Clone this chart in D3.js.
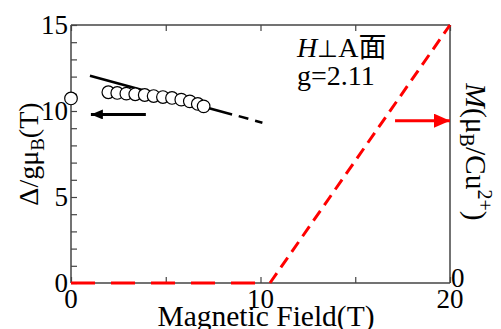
<!DOCTYPE html>
<html><head><meta charset="utf-8">
<script src="https://cdn.jsdelivr.net/npm/d3@7"></script>
<style>
html,body{margin:0;padding:0;background:#fff;}
svg{display:block;}
</style></head>
<body>
<svg id="chart" width="501" height="329"></svg>
<script>
// Data
const gapField = [0, 1.97, 2.44, 2.92, 3.39, 3.89, 4.36, 4.85, 5.33, 5.82, 6.27, 6.69, 7.0];
const gapValue = [10.73, 11.09, 11.05, 11.01, 10.97, 10.93, 10.87, 10.81, 10.76, 10.66, 10.56, 10.41, 10.27];
const fitSolidField = [1.0, 8.5];
const fitSolidValue = [12.05, 9.8];
const fitDashField = [8.85, 10.1];
const fitDashValue = [9.7, 9.32];
const magField = [0, 10.5, 20];
const magValue = [0, 0, 1];
const xTicks = [0, 5, 10, 15, 20];
const xTickLabels = [0, 10, 20];
const yTicks = d3.range(0, 16, 1);
const yTickLabels = [0, 5, 10, 15];
const arrowLeftY = 9.8;
const arrowLeftX = [1.05, 3.95];
const arrowRightY = 9.44;
const arrowRightX = [17.1, 20];

(function () {
const FONT = "'Liberation Serif', 'Times New Roman', serif";
const svg = d3.select("#chart");
const x = d3.scaleLinear().domain([0, 20]).range([71, 450]);
const y = d3.scaleLinear().domain([0, 15]).range([283, 25]);
const yR = d3.scaleLinear().domain([0, 1]).range([283, 25]);
const axisColor = "#444";

const defs = svg.append("defs");
defs.append("marker").attr("id","ahBlack").attr("viewBox","0 0 12 10").attr("refX",12).attr("refY",5)
  .attr("markerWidth",12).attr("markerHeight",10).attr("markerUnits","userSpaceOnUse").attr("orient","auto")
  .append("path").attr("d","M0,0L12,5L0,10Z").attr("fill","#000");
defs.append("marker").attr("id","ahRed").attr("viewBox","0 0 16 14").attr("refX",16).attr("refY",7)
  .attr("markerWidth",16).attr("markerHeight",14).attr("markerUnits","userSpaceOnUse").attr("orient","auto")
  .append("path").attr("d","M0,0L16,7L0,14Z").attr("fill","#ff0000");

const g = svg.append("g");
const x0 = x.range()[0], x1 = x.range()[1], y0 = y.range()[0], y1 = y.range()[1];
const axB = g.append("g").attr("transform",`translate(0,${y0})`)
  .call(d3.axisBottom(x).tickValues(xTicks).tickSize(-6).tickFormat(""));
const axT = g.append("g").attr("transform",`translate(0,${y1})`)
  .call(d3.axisTop(x).tickValues(xTicks).tickSize(-6).tickFormat(""));
const axL = g.append("g").attr("transform",`translate(${x0},0)`)
  .call(d3.axisLeft(y).tickValues(yTicks).tickSize(-6).tickFormat(""));
const axR = g.append("g").attr("transform",`translate(${x1},0)`)
  .call(d3.axisRight(yR).tickValues([]).tickSizeOuter(0));
[axB, axT, axL, axR].forEach(a => {
  a.selectAll("path").attr("stroke", axisColor).attr("stroke-width", 1.5);
  a.selectAll("line").attr("stroke", axisColor).attr("stroke-width", 1.2);
});
axB.select("path").attr("d", `M${x0},0H${x1}`);
axT.select("path").attr("d", `M${x0},0H${x1}`);
axL.select("path").attr("d", `M0,${y0}V${y1}`);
axR.select("path").attr("d", `M0,${y0}V${y1}`);

const lab = svg.append("g").attr("font-size", 27).attr("fill", "#000");
lab.selectAll(".xl").data(xTickLabels).enter().append("text")
  .attr("x", d => x(d)).attr("y", 308).attr("text-anchor", "middle").text(d => d);
lab.selectAll(".yl").data(yTickLabels).enter().append("text")
  .attr("x", 68).attr("y", d => y(d) + 9).attr("text-anchor", "end").text(d => d);
lab.append("text").attr("x", 451).attr("y", yR(0) + 4).attr("text-anchor", "start").text("0");

svg.append("text").attr("x", 266).attr("y", 326).attr("text-anchor", "middle")
  .attr("font-size", 29.5).text("Magnetic Field(T)");
const yt = svg.append("text").attr("transform", "translate(38,154) rotate(-90)")
  .attr("text-anchor", "middle").attr("font-size", 28);
yt.append("tspan").text("Δ/gμ");
yt.append("tspan").attr("font-size", 19).attr("dy", 6).text("B");
yt.append("tspan").attr("dy", -6).text("(T)");
const rt = svg.append("text").attr("transform", "translate(466,152) rotate(90)")
  .attr("text-anchor", "middle").attr("font-size", 29.5);
rt.append("tspan").attr("font-style", "italic").text("M");
rt.append("tspan").text("(μ");
rt.append("tspan").attr("font-size", 20).attr("dy", 6).text("B");
rt.append("tspan").attr("dy", -6).text("/Cu");
rt.append("tspan").attr("font-size", 20).attr("dy", -12).text("2+");
rt.append("tspan").attr("dy", 12).text(")");

const ann = svg.append("g").attr("font-size", 28);
const a1 = ann.append("text").attr("x", 297).attr("y", 57);
a1.append("tspan").attr("font-style", "italic").text("H");
a1.append("tspan").attr("font-size", 24).text("⊥");
a1.append("tspan").text("A");
a1.append("tspan").attr("class", "cjk").text("面");
ann.append("text").attr("x", 297).attr("y", 85).text("g=2.11");

svg.selectAll("text").style("font-family", FONT);
svg.selectAll("tspan.cjk").style("font-family", "'Noto Sans CJK JP', 'Noto Sans CJK SC', sans-serif");

const magPts = magField.map((f, i) => [x(f), yR(magValue[i])]);
const line = d3.line();
svg.append("path").attr("d", line(magPts.slice(0, 2))).attr("fill", "none")
  .attr("stroke", "#ff0000").attr("stroke-width", 3).attr("stroke-dasharray", "24,16");
svg.append("path").attr("d", line(magPts.slice(1, 3))).attr("fill", "none")
  .attr("stroke", "#ff0000").attr("stroke-width", 3).attr("stroke-dasharray", "12,7");

svg.append("path").attr("d", line(fitSolidField.map((f, i) => [x(f), y(fitSolidValue[i])])))
  .attr("fill", "none").attr("stroke", "#000").attr("stroke-width", 2.5);
svg.append("path").attr("d", line(fitDashField.map((f, i) => [x(f), y(fitDashValue[i])])))
  .attr("fill", "none").attr("stroke", "#000").attr("stroke-width", 2.5).attr("stroke-dasharray", "10,7");

svg.append("g").selectAll("circle").data(gapField).enter().append("circle")
  .attr("cx", d => x(d)).attr("cy", (d, i) => y(gapValue[i])).attr("r", 6.3)
  .attr("fill", "#fff").attr("stroke", "#000").attr("stroke-width", 1.2);

svg.append("line").attr("x1", x(arrowLeftX[1])).attr("x2", x(arrowLeftX[0]))
  .attr("y1", y(arrowLeftY)).attr("y2", y(arrowLeftY))
  .attr("stroke", "#000").attr("stroke-width", 3).attr("marker-end", "url(#ahBlack)");
svg.append("line").attr("x1", x(arrowRightX[0])).attr("x2", x(arrowRightX[1]))
  .attr("y1", y(arrowRightY)).attr("y2", y(arrowRightY))
  .attr("stroke", "#ff0000").attr("stroke-width", 3).attr("marker-end", "url(#ahRed)");
})();
</script>
</body></html>
